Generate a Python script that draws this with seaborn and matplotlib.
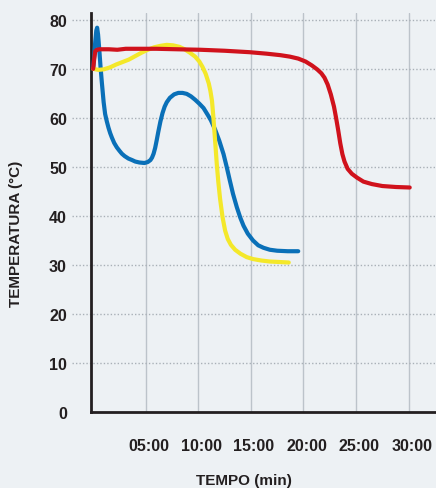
import matplotlib
matplotlib.use('Agg')
import matplotlib.pyplot as plt
import matplotlib.transforms as mtransforms
import seaborn as sns

# minutes / temperature (°C)
blue_t = [0, 0.1, 0.2, 0.3, 0.38, 0.47, 0.6, 0.7, 0.83, 1.0, 1.14, 1.3, 1.46, 1.62, 1.78, 2.0,
          2.25, 2.5, 2.73, 3.0, 3.36, 3.7, 4.0, 4.4, 4.88, 5.2, 5.45, 5.6, 5.75, 5.9, 6.05, 6.2,
          6.4, 6.6, 6.8, 7.0, 7.3, 7.7, 8.1, 8.5, 8.9, 9.3, 9.7, 10.1, 10.5, 10.9, 11.2, 11.6,
          12.0, 12.4, 12.7, 13.0, 13.3, 13.66, 14.0, 14.3, 14.7, 15.2, 15.7, 16.2, 16.8, 17.5,
          18.5, 19.5]
blue_temp = [70, 72.5, 75.5, 77.8, 78.4, 77.0, 73.5, 70.5, 67.2, 63.2, 60.8, 59.3, 58.0, 56.9, 56.0, 54.9,
             54.0, 53.3, 52.7, 52.2, 51.7, 51.4, 51.1, 50.9, 50.8, 51.0, 51.4, 51.9, 52.7, 53.9, 55.5, 57.2,
             59.3, 61.0, 62.3, 63.2, 64.1, 64.8, 65.1, 65.1, 64.9, 64.4, 63.7, 62.9, 62.0, 60.6, 59.5, 57.6,
             55.3, 52.6, 50.0, 47.2, 44.5, 41.8, 39.6, 38.0, 36.4, 35.0, 34.0, 33.5, 33.1, 32.9,
             32.8, 32.8]

yellow_t = [0, 0.5, 1.0, 1.6, 2.2, 2.8, 3.4, 4.0, 4.6, 5.2, 5.8, 6.4, 7.0, 7.6, 8.2, 8.7, 9.2,
            9.7, 10.1, 10.4, 10.7, 11.0, 11.15, 11.3, 11.42, 11.53, 11.65, 11.76, 11.9, 12.07, 12.3,
            12.55, 12.8, 13.1, 13.5, 14.0, 14.6, 15.2, 16.0, 16.8, 17.7, 18.6]
yellow_temp = [70, 69.8, 69.9, 70.3, 70.9, 71.4, 71.9, 72.6, 73.3, 73.9, 74.4, 74.7, 74.9, 74.8, 74.5, 74.0, 73.3,
               72.5, 71.5, 70.4, 69.0, 67.0, 65.5, 63.5, 60.5, 57.3, 53.8, 50.5, 47.0, 43.5, 39.8,
               37.0, 35.3, 34.1, 33.1, 32.3, 31.6, 31.2, 30.9, 30.7, 30.6, 30.5]

red_t = [0, 0.1, 0.2, 0.35, 0.6, 1.5, 2.3, 2.7, 3.1, 4.0, 6.0, 8.0, 10.2, 12.5, 14.9, 16.5, 17.8,
         18.7, 19.5, 20.2, 20.8, 21.3, 21.7, 22.0, 22.3, 22.6, 22.9, 23.1, 23.3, 23.5, 23.7, 23.9,
         24.2, 24.6, 25.1, 25.7, 26.5, 27.5, 28.8, 30.1]
red_temp = [70, 72, 73.6, 73.9, 74.0, 74.0, 73.9, 74.0, 74.1, 74.1, 74.1, 74.0, 73.9, 73.7, 73.4, 73.1, 72.8,
            72.5, 72.1, 71.5, 70.7, 69.9, 69.1, 68.2, 66.8, 64.8, 62.3, 60.0, 57.5, 54.8, 52.6, 51.1,
            49.6, 48.6, 47.8, 47.0, 46.5, 46.1, 45.9, 45.8]

x_ticks = [5, 10, 15, 20, 25, 30]
x_labels = ['05:00', '10:00', '15:00', '20:00', '25:00', '30:00']
y_ticks = [0, 10, 20, 30, 40, 50, 60, 70, 80]

BG = '#edf1f4'
DARK = '#231f20'
GRID = '#bcc3ca'

sns.set_theme(style='white')
plt.rcParams['font.family'] = ['Liberation Sans', 'DejaVu Sans']

fig = plt.figure(figsize=(4.36, 4.89), dpi=100, facecolor=BG)
ax = fig.add_axes([90.5 / 436, 76 / 489, 1 - 90.5 / 436, (413 - 14) / 489])
ax.set_facecolor(BG)

sns.lineplot(x=blue_t, y=blue_temp, color='#0a70b8', lw=3, ax=ax, zorder=3,
             solid_capstyle='round', solid_joinstyle='round')
sns.lineplot(x=yellow_t, y=yellow_temp, color='#f4e82a', lw=3, ax=ax, zorder=4,
             solid_capstyle='round', solid_joinstyle='round')
sns.lineplot(x=red_t, y=red_temp, color='#d0121c', lw=3, ax=ax, zorder=5,
             solid_capstyle='round', solid_joinstyle='round')

ax.set_xlim(-0.25, 32.6)
ax.set_ylim(0, 81.4)

ax.set_xticks(x_ticks, x_labels)
ax.set_yticks(y_ticks)
ax.xaxis.grid(True, color=GRID, lw=1, zorder=1)
ax.set_axisbelow(True)
ax.hlines([v for v in y_ticks if v > 0], -0.053, 1, transform=ax.get_yaxis_transform(),
          colors='#a9b0b7', linestyles=(0, (1, 1.5)), lw=1, clip_on=False, zorder=1)

ax.tick_params(axis='x', length=10, width=1, color=GRID, pad=9, labelsize=11.5, labelcolor=DARK)
ax.tick_params(axis='y', length=0, pad=17, labelsize=11.5, labelcolor=DARK)
for lab in ax.get_xticklabels():
    lab.set_fontweight('bold')
    lab.set_transform(lab.get_transform() + mtransforms.ScaledTranslation(0.03, 0, fig.dpi_scale_trans))
for lab in ax.get_yticklabels():
    lab.set_fontweight('bold')

for side in ['top', 'right']:
    ax.spines[side].set_visible(False)
for side in ['left', 'bottom']:
    ax.spines[side].set_color(DARK)
    ax.spines[side].set_linewidth(2)
ax.set_xlabel('')
ax.set_ylabel('')

fig.text(16 / 436, 1 - 234 / 489, 'TEMPERATURA (°C)', rotation=90, ha='center', va='center',
         fontsize=11, fontweight='bold', color=DARK)
fig.text(244 / 436, 1 - 481 / 489, 'TEMPO (min)', ha='center', va='center',
         fontsize=11, fontweight='bold', color=DARK)

fig.savefig('out.png', dpi=100, facecolor=BG)
